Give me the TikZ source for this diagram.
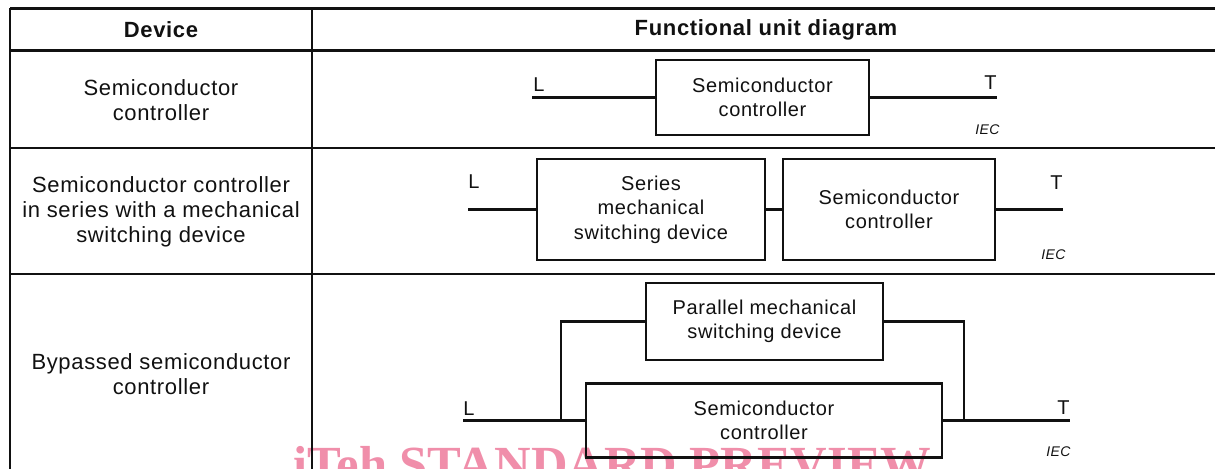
\documentclass[tikz,border=0pt]{standalone}
\usepackage{fontspec}
\setmainfont{Liberation Sans}[LetterSpace=3]
\newfontfamily\wmfont{Liberation Serif}[BoldFont={Liberation Serif Bold}]
\definecolor{wmpink}{RGB}{240,142,170}
\definecolor{ink}{RGB}{17,17,17}
\begin{document}
\begin{tikzpicture}[x=0.5pt,y=-0.5pt,
  grid/.style={line width=1.25pt, ink},
  wire/.style={line width=1.05pt, ink},
  unit/.style={draw=ink, line width=1.05pt, inner sep=0pt, align=center,
    font=\fontsize{10}{12.3}\selectfont, text=ink},
  cell/.style={align=center, inner sep=0pt, font=\fontsize{11}{12.4}\selectfont, text=ink},
  head/.style={cell, font=\fontsize{11}{12.4}\selectfont\bfseries},
  term/.style={inner sep=0pt, font=\fontsize{10}{12}\selectfont, text=ink},
  iec/.style={inner sep=0pt, font=\fontsize{7}{8}\selectfont\itshape, text=ink},
  wm/.style={inner sep=0pt, font=\wmfont\bfseries\fontsize{25.3}{26}\selectfont, text=wmpink}]
\useasboundingbox (0,0) rectangle (1215,468);

% watermark behind the table
\node[wm, anchor=base] (wmark) at (612.5,481) {iTeh STANDARD PREVIEW};

% table rules
\draw[grid] (10,8.5) -- (1216,8.5);
\draw[grid] (10,50.5) -- (1216,50.5);
\draw[grid] (10,148) -- (1216,148);
\draw[grid] (10,274) -- (1216,274);
\draw[grid] (10,7.9) -- (10,470);
\draw[grid] (312,7.9) -- (312,470);

% header
\node[head] (hdev) at (161,30) {Device};
\node[head] (hfun) at (766,30) {Functional unit diagram};

% device column
\node[cell] (dev1) at (161,100) {Semiconductor\\controller};
\node[cell] (dev2) at (161,212) {Semiconductor controller\\in series with a mechanical\\switching device};
\node[cell] (dev3) at (161,374.5) {Bypassed semiconductor\\controller};

% row 1: semiconductor controller alone
\node[unit, minimum width=106.5pt, minimum height=37.5pt] (sc1) at (762.5,97.5) {Semiconductor\\controller};
\coordinate (in1) at (532,97.5);
\coordinate (out1) at (997,97.5);
\draw[wire] (in1) -- (sc1.west);
\draw[wire] (sc1.east) -- (out1);
\node[term, anchor=south west] (L1) at (533,92) {L};
\node[term, anchor=south east] (T1) at (997,90) {T};
\node[iec, anchor=east] (iec1) at (1000,130) {IEC};

% row 2: series connection
\node[unit, minimum width=114pt, minimum height=50.5pt] (msd) at (651,209.5) {Series\\mechanical\\switching device};
\node[unit, minimum width=106pt, minimum height=50.5pt] (sc2) at (889,209.5) {Semiconductor\\controller};
\coordinate (in2) at (468,209.5);
\coordinate (out2) at (1063,209.5);
\draw[wire] (in2) -- (msd.west);
\draw[wire] (msd.east) -- (sc2.west);
\draw[wire] (sc2.east) -- (out2);
\node[term, anchor=south west] (L2) at (468,189) {L};
\node[term, anchor=south east] (T2) at (1063,190) {T};
\node[iec, anchor=east] (iec2) at (1066,255) {IEC};

% row 3: bypassed controller
\node[unit, minimum width=118.5pt, minimum height=38.5pt] (pmsd) at (764.5,321.5) {Parallel mechanical\\switching device};
\node[unit, minimum width=178pt, minimum height=37pt] (sc3) at (764,420.5) {Semiconductor\\controller};
\coordinate (in3) at (463,420.5);
\coordinate (out3) at (1070,420.5);
\coordinate (jl) at (561,420.5);
\coordinate (jr) at (964,420.5);
\draw[wire] (in3) -- (sc3.west);
\draw[wire] (sc3.east) -- (out3);
\draw[wire] (jl) |- (pmsd.west);
\draw[wire] (pmsd.east) -| (jr);
\node[term, anchor=south west] (L3) at (463,416) {L};
\node[term, anchor=south east] (T3) at (1070,415) {T};
\node[iec, anchor=east] (iec3) at (1071,452) {IEC};
\end{tikzpicture}
\end{document}
